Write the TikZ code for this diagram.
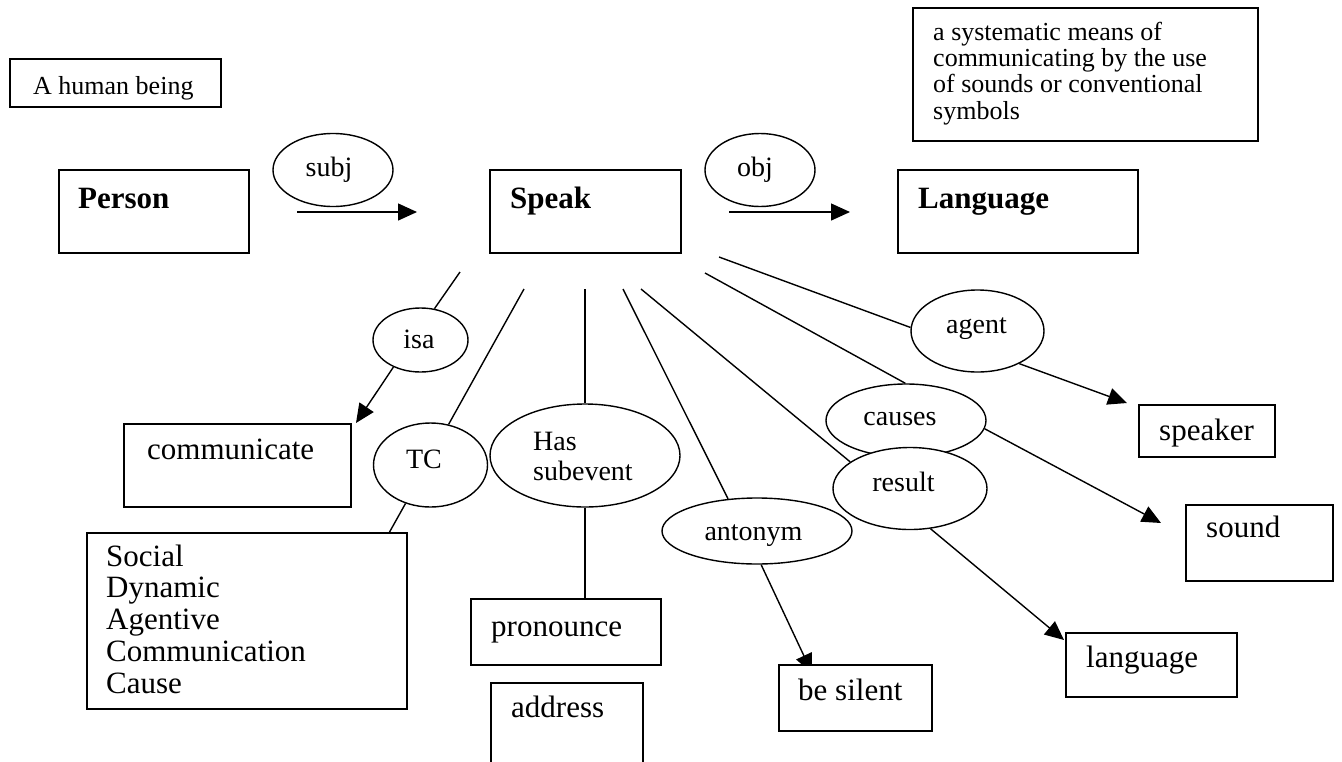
\documentclass[tikz,border=0pt]{standalone}
\usepackage{fontspec}
\setmainfont{Liberation Serif}
\usetikzlibrary{shapes.geometric,arrows.meta,calc}
\pgfdeclarelayer{bg}
\pgfsetlayers{bg,main}
\newcommand\fsmall{\fontsize{26}{26.4}\selectfont}
\newcommand\fmid{\fontsize{28}{30}\selectfont}
\newcommand\fbig{\fontsize{31}{31.75}\selectfont}
\begin{document}
\begin{tikzpicture}[x=1pt,y=-1pt,
  box/.style={draw,line width=1.6pt,fill=white,rectangle,anchor=north west,inner sep=0pt},
  oval/.style={draw,line width=1.4pt,fill=white,ellipse,inner sep=0pt},
  lbl/.style={anchor=base west,inner sep=0pt},
  olbl/.style={anchor=base,inner sep=0pt,font=\fmid},
  conn/.style={line width=1.4pt},
  arr/.style={conn,-{Triangle[length=19pt,width=17pt]}}]
\useasboundingbox (0,0) rectangle (1342,761);
\clip (0,0) rectangle (1342,761);

% boxes
\node[box,minimum width=211pt,minimum height=48pt] (human) at (9,58) {};
\node[box,minimum width=345pt,minimum height=133pt] (defn) at (912,7) {};
\node[box,minimum width=190pt,minimum height=83pt] (person) at (58,169) {};
\node[box,minimum width=191pt,minimum height=83pt] (speak) at (489,169) {};
\node[box,minimum width=240pt,minimum height=83pt] (Lang) at (897,169) {};
\node[box,minimum width=227pt,minimum height=83pt] (comm) at (123,423) {};
\node[box,minimum width=320pt,minimum height=176pt] (soc) at (86,532) {};
\node[box,minimum width=190pt,minimum height=66pt] (pron) at (470,598) {};
\node[box,minimum width=152pt,minimum height=120pt] (addr) at (490,682) {};
\node[box,minimum width=153pt,minimum height=66pt] (bs) at (778,664) {};
\node[box,minimum width=136pt,minimum height=52pt] (spk) at (1138,404) {};
\node[box,minimum width=147pt,minimum height=76pt] (snd) at (1185,504) {};
\node[box,minimum width=171pt,minimum height=64pt] (lang) at (1065,632) {};

% ellipses
\node[oval,minimum width=120pt,minimum height=73pt] (subj) at (333,170) {};
\node[oval,minimum width=110pt,minimum height=73pt] (obj) at (760,170) {};
\node[oval,minimum width=95pt,minimum height=64pt] (isa) at (420.5,340) {};
\node[oval,minimum width=114pt,minimum height=84pt] (TC) at (430.5,465) {};
\node[oval,minimum width=190pt,minimum height=103pt] (has) at (585,455.5) {};
\node[oval,minimum width=190pt,minimum height=66pt] (ant) at (757,531) {};
\node[oval,minimum width=133pt,minimum height=82pt] (ag) at (977.5,331) {};
\node[oval,minimum width=160pt,minimum height=73pt] (cau) at (906,420.5) {};
\node[oval,minimum width=154pt,minimum height=82pt] (res) at (910,488.5) {};

% texts
\node[lbl,font=\fsmall] (human-t) at (33,94) {A human being};
\node[lbl,font=\fsmall] (defn-t) at (933,40) {\begin{tabular}[t]{@{}l@{}}a systematic means of\\communicating by the use\\of sounds or conventional\\symbols\end{tabular}};
\node[lbl,font=\fbig\bfseries] (person-t) at (78,208) {Person};
\node[lbl,font=\fbig\bfseries] (speak-t) at (510,208) {Speak};
\node[lbl,font=\fbig\bfseries] (Lang-t) at (918,208) {Language};
\node[lbl,font=\fbig] (comm-t) at (147,459) {communicate};
\node[lbl,font=\fbig] (soc-t) at (106,566) {\begin{tabular}[t]{@{}l@{}}Social\\Dynamic\\Agentive\\Communication\\Cause\end{tabular}};
\node[lbl,font=\fbig] (pron-t) at (491,636) {pronounce};
\node[lbl,font=\fbig] (addr-t) at (511,717) {address};
\node[lbl,font=\fbig] (bs-t) at (798,700) {be silent};
\node[lbl,font=\fbig] (spk-t) at (1159,440) {speaker};
\node[lbl,font=\fbig] (snd-t) at (1206,537) {sound};
\node[lbl,font=\fbig] (lang-t) at (1086,667) {language};

\node[olbl] (subj-t) at (329,176) {subj};
\node[olbl] (obj-t) at (755,176) {obj};
\node[olbl] (isa-t) at (419,348) {isa};
\node[olbl] (TC-t) at (424,468) {TC};
\node[lbl,font=\fmid] (has-t) at (533,450) {\begin{tabular}[t]{@{}l@{}}Has\\subevent\end{tabular}};
\node[olbl] (ant-t) at (753.5,540) {antonym};
\node[olbl] (ag-t) at (976.5,333) {agent};
\node[olbl] (cau-t) at (900,425) {causes};
\node[olbl] (res-t) at (903.5,491.7) {result};

% free ends
\coordinate (subjA) at (297,212);
\coordinate (subjB) at (417,212);
\coordinate (objA) at (729,212);
\coordinate (objB) at (850,212);
\coordinate (sIsa) at (460,272);
\coordinate (sTC) at (524,289);
\coordinate (sHas) at (585,289);
\coordinate (sAnt) at (623,289);
\coordinate (sRes) at (641,289);
\coordinate (sCau) at (705,273);
\coordinate (sAg) at (719,257);
\coordinate (commTip) at (356,423);
\coordinate (socTop) at (389,533);
\coordinate (bsTip) at (812,673);
\coordinate (langTip) at (1064,640);
\coordinate (sndTip) at (1161,523);
\coordinate (spkTip) at (1127,403);

\begin{pgfonlayer}{bg}
\fill[white] (0,0) rectangle (1342,761);
\draw[arr] (subjA) -- (subjB);
\draw[arr] (objA) -- (objB);
\draw[conn] (sIsa) -- (isa.66);
\draw[arr] (isa.225) -- (commTip);
\draw[conn] (sTC) -- (TC.66);
\draw[conn] (TC.237) -- (socTop);
\draw[conn] (sHas) -- (has.north);
\draw[conn] (has.south) -- (has.south |- pron.north);
\draw[conn] (sAnt) -- (ant.132);
\draw[arr] (ant.-83) -- (bsTip);
\draw[conn] (sRes) -- (res.156);
\draw[arr] (res.-63) -- (langTip);
\draw[conn] (sCau) -- (cau.91);
\draw[arr] (cau.-6) -- (sndTip);
\draw[conn] (sAg) -- (ag.177);
\draw[arr] (ag.-38) -- (spkTip);
\end{pgfonlayer}
\end{tikzpicture}
\end{document}
